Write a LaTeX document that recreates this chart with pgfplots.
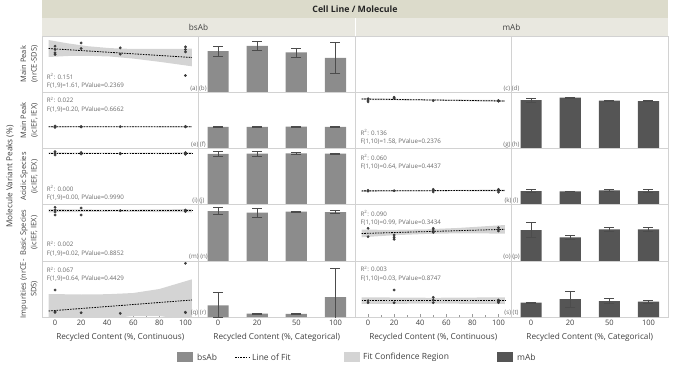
\documentclass[border=0pt]{standalone}
\usepackage{fontspec}
\setmainfont{Open Sans}
\usepackage{pgfplots}
\pgfplotsset{compat=1.18}
\definecolor{bsab}{HTML}{8C8C8C}
\definecolor{mab}{HTML}{555555}
\definecolor{band}{HTML}{D4D4D4}
\definecolor{frame}{HTML}{D2D2D2}
\definecolor{hdr1}{HTML}{DCDBCB}
\definecolor{hdr2}{HTML}{E9E8E0}
\definecolor{ptc}{HTML}{3C3C3C}
\definecolor{note}{HTML}{6A6A6A}
\definecolor{txt}{HTML}{404040}
\newcommand\ticfont{\fontsize{7.5}{9}\selectfont}
\newcommand\labfont{\fontsize{8.2}{10}\selectfont}
\newcommand\notefont{\fontsize{6.2}{7}\selectfont}
\tikzset{fitline/.style={black, line width=0.8pt, dash pattern=on 1.6pt off 1.1pt}}
\pgfplotsset{
  panel/.style={scale only axis, width=156.5pt, height=56.2pt, anchor=south west,
    ymin=0, ymax=56.2, axis line style={draw=frame, line width=0.5pt},
    xtick=\empty, ytick=\empty, clip=true},
  cont/.style={panel, xmin=-10, xmax=110},
  cat/.style={panel, xmin=-0.5, xmax=3.5},
  bot/.style={tick align=inside, xtick pos=left, major tick length=3pt, minor tick length=2pt,
    tick style={draw=gray!80, line width=0.5pt},
    xticklabel style={font=\ticfont, text=txt, /pgf/number format/assume math mode=true},
    xlabel style={font=\labfont, text=txt}},
  contbot/.style={cont, bot, xtick={0,20,40,60,80,100}, minor xtick={10,30,50,70,90},
    xlabel={Recycled Content (\%, Continuous)}},
  catbot/.style={cat, bot, xtick={0,1,2,3}, xticklabels={0,20,50,100}, major tick length=0pt,
    xlabel={Recycled Content (\%, Categorical)}},
  cband/.style={fill=band, draw=none},
  pts/.style={only marks, mark=*, mark size=1.2pt, color=ptc},
  bars/.style={ybar, bar width=0.54, fill=#1, draw=none,
    error bars/.cd, y dir=both, y explicit,
    error bar style={color=black!70, line width=0.7pt},
    error mark options={rotate=90, mark size=5pt, color=black!70, line width=0.7pt}},
}
\begin{document}
\begin{tikzpicture}
\useasboundingbox (0pt,0pt) rectangle (677pt,-367pt);
% header
\fill[hdr1] (42pt,0pt) rectangle (668pt,-18pt);
\fill[hdr2] (42pt,-18pt) rectangle (668pt,-36pt);
\draw[white, line width=0.8pt] (355pt,-18pt) -- (355pt,-36pt);
\node[font=\fontsize{8.8}{10}\selectfont\bfseries, text=black!85] at (355pt,-9pt) {Cell Line / Molecule};
\node[font=\fontsize{8.2}{10}\selectfont, text=txt] at (198.5pt,-27pt) {bsAb};
\node[font=\fontsize{8.2}{10}\selectfont, text=txt] at (511.5pt,-27pt) {mAb};

%================ ROW 1 =================
\begin{axis}[cont, at={(42pt,-92.2pt)}]
\addplot[cband] coordinates {(-5,52.2)(10,48.8)(25,46)(42,44.1)(60,43.2)(80,43.2)(105,43.5)(105,25.9)(80,30.4)(60,33.6)(42,35.7)(25,36.4)(10,36.2)(-5,35.2)};
\addplot[fitline] coordinates {(-5,43.7)(105,34.7)};
\addplot[pts] coordinates {(0,46)(0,42.7)(0,39.3)(0,37.7)(20,49.3)(20,43.7)(50,44.3)(50,38)(100,45.3)(100,42.7)(100,40.3)(100,16.7)};
\end{axis}
\begin{axis}[cat, at={(198.5pt,-92.2pt)}]
\addplot[bars=bsab] table[x=x, y=y, y error=e] {
x y e
0 41.0 5.0
1 46.3 4.5
2 39.7 4.5
3 34.3 15.5
};
\end{axis}
\begin{axis}[cont, at={(355pt,-92.2pt)}]
\end{axis}
\begin{axis}[cat, at={(511.5pt,-92.2pt)}]
\end{axis}

%================ ROW 2 =================
\begin{axis}[cont, at={(42pt,-148.4pt)}]
\addplot[cband] coordinates {(-5,22.3)(50,22.1)(105,22.2)(105,21.0)(50,21.3)(-5,21.1)};
\addplot[fitline] coordinates {(-5,21.7)(105,21.6)};
\addplot[pts] coordinates {(0,22.4)(0,21.7)(0,21.0)(20,21.9)(20,21.4)(50,21.7)(100,22.0)(100,21.5)};
\end{axis}
\begin{axis}[cat, at={(198.5pt,-148.4pt)}]
\addplot[bars=bsab] table[x=x, y=y, y error=e] {
x y e
0 21.5 0.4
1 21.5 0.3
2 21.7 0.4
3 21.6 0.3
};
\end{axis}
\begin{axis}[cont, at={(355pt,-148.4pt)}]
\addplot[cband] coordinates {(-5,50.3)(50,49.0)(105,48.3)(105,46.5)(50,47.8)(-5,48.5)};
\addplot[fitline] coordinates {(-5,49.4)(105,47.4)};
\addplot[pts] coordinates {(0,49.7)(0,48.2)(0,46.6)(20,51.1)(20,50.2)(50,47.7)(100,47.9)(100,47.5)(100,47.2)};
\end{axis}
\begin{axis}[cat, at={(511.5pt,-148.4pt)}]
\addplot[bars=mab] table[x=x, y=y, y error=e] {
x y e
0 48.2 2.2
1 50.7 0.5
2 47.7 0.4
3 47.4 0.2
};
\end{axis}

%================ ROW 3 =================
\begin{axis}[cont, at={(42pt,-204.6pt)}]
\addplot[cband] coordinates {(-5,52.2)(50,51.8)(105,52.2)(105,50.4)(50,50.8)(-5,50.4)};
\addplot[fitline] coordinates {(-5,51.3)(105,51.3)};
\addplot[pts] coordinates {(0,53)(0,51.3)(0,49.6)(20,52)(20,50.6)(50,51.3)(50,50.8)(100,52)(100,50.8)(100,50.3)};
\end{axis}
\begin{axis}[cat, at={(198.5pt,-204.6pt)}]
\addplot[bars=bsab] table[x=x, y=y, y error=e] {
x y e
0 50.6 2.2
1 50.9 2.6
2 51.3 0.8
3 50.9 0.8
};
\end{axis}
\begin{axis}[cont, at={(355pt,-204.6pt)}]
\addplot[cband] coordinates {(-5,14.6)(50,14.4)(105,15.1)(105,13.3)(50,13.4)(-5,12.8)};
\addplot[fitline] coordinates {(-5,13.7)(105,14.2)};
\addplot[pts] coordinates {(0,14.3)(0,13.5)(20,13.9)(50,15.2)(50,13.9)(50,12.6)(100,15.2)(100,13.9)(100,12.5)};
\end{axis}
\begin{axis}[cat, at={(511.5pt,-204.6pt)}]
\addplot[bars=mab] table[x=x, y=y, y error=e] {
x y e
0 13.6 1.2
1 13.3 0.3
2 14.3 1.2
3 13.6 1.3
};
\end{axis}

%================ ROW 4 =================
\begin{axis}[cont, at={(42pt,-260.8pt)}]
\addplot[cband] coordinates {(-5,51.7)(45,51.1)(105,51.7)(105,48.5)(45,49.1)(-5,48.5)};
\addplot[fitline] coordinates {(-5,50.1)(105,50.1)};
\addplot[pts] coordinates {(0,53.5)(0,50.8)(0,48.8)(0,45.8)(20,52.8)(20,45.8)(50,50.1)(100,50.8)(100,49.3)};
\end{axis}
\begin{axis}[cat, at={(198.5pt,-260.8pt)}]
\addplot[bars=bsab] table[x=x, y=y, y error=e] {
x y e
0 49.8 3.8
1 48.1 4.3
2 49.1 0.5
3 48.8 1.7
};
\end{axis}
\begin{axis}[cont, at={(355pt,-260.8pt)}]
\addplot[cband] coordinates {(-5,31.1)(20,31.0)(45,31.5)(70,32.9)(105,35.8)(105,27.2)(70,27.5)(45,26.9)(20,25.6)(-5,23.5)};
\addplot[fitline] coordinates {(-5,27.3)(105,31.5)};
\addplot[pts] coordinates {(0,32.5)(0,24.1)(20,25.8)(20,23.5)(20,21.5)(50,32.5)(50,30.8)(50,28.5)(100,33.1)(100,31.5)(100,29.8)};
\end{axis}
\begin{axis}[cat, at={(511.5pt,-260.8pt)}]
\addplot[bars=mab] table[x=x, y=y, y error=e] {
x y e
0 30.8 7.3
1 23.5 1.8
2 31.5 2.0
3 31.5 1.8
};
\end{axis}

%================ ROW 5 =================
\begin{axis}[contbot, at={(42pt,-317pt)}]
\addplot[cband] coordinates {(-5,23)(20,22.5)(40,22.8)(60,24)(80,28)(105,37.7)(105,-3.7)(80,1)(60,1)(40,-1.8)(20,-5.5)(-5,-11)};
\addplot[fitline] coordinates {(-5,6)(105,17)};
\addplot[pts] coordinates {(0,27)(0,5.3)(0,4.6)(20,4.3)(50,3.7)(100,4.3)(100,4.8)(100,53.7)};
\end{axis}
\begin{axis}[catbot, at={(198.5pt,-317pt)}]
\addplot[bars=bsab] table[x=x, y=y, y error=e] {
x y e
0 11.7 12.5
1 3.5 0.4
2 3.2 0.3
3 20.0 28.3
};
\end{axis}
\begin{axis}[contbot, at={(355pt,-317pt)}]
\addplot[cband] coordinates {(-5,19.7)(50,19.2)(105,19.7)(105,13.0)(50,13.4)(-5,13.0)};
\addplot[fitline] coordinates {(-5,16.3)(105,16.3)};
\addplot[pts] coordinates {(0,16.3)(0,14.3)(20,27)(20,14.3)(50,19.7)(50,17)(50,14.3)(100,17)(100,15.7)(100,14.3)};
\end{axis}
\begin{axis}[catbot, at={(511.5pt,-317pt)}]
\addplot[bars=mab] table[x=x, y=y, y error=e] {
x y e
0 14.3 0.5
1 18.0 8.0
2 16.0 2.7
3 15.3 1.5
};
\end{axis}

% annotations
\begin{scope}[every node/.style={font=\notefont, text=note, inner sep=0pt, anchor=west}]
\node at (46.7pt,-76.7pt) {R\textsuperscript{2}: 0.151};
\node at (46.7pt,-85.7pt) {F(1,9)=1.61, PValue=0.2369};
\node at (46.7pt,-100pt) {R\textsuperscript{2}: 0.022};
\node at (46.7pt,-109.3pt) {F(1,9)=0.20, PValue=0.6662};
\node at (46.7pt,-188.3pt) {R\textsuperscript{2}: 0.000};
\node at (46.7pt,-197.3pt) {F(1,9)=0.00, PValue=0.9990};
\node at (46.7pt,-244pt) {R\textsuperscript{2}: 0.002};
\node at (46.7pt,-253.3pt) {F(1,9)=0.02, PValue=0.8852};
\node at (46.7pt,-270pt) {R\textsuperscript{2}: 0.067};
\node at (46.7pt,-278.3pt) {F(1,9)=0.64, PValue=0.4429};
\node at (360.3pt,-132.7pt) {R\textsuperscript{2}: 0.136};
\node at (360.3pt,-141.7pt) {F(1,10)=1.58, PValue=0.2376};
\node at (360.3pt,-157.3pt) {R\textsuperscript{2}: 0.060};
\node at (360.3pt,-166.7pt) {F(1,10)=0.64, PValue=0.4437};
\node at (360.3pt,-213.3pt) {R\textsuperscript{2}: 0.090};
\node at (360.3pt,-222.3pt) {F(1,10)=0.99, PValue=0.3434};
\node at (360.3pt,-269pt) {R\textsuperscript{2}: 0.003};
\node at (360.3pt,-278.3pt) {F(1,10)=0.03, PValue=0.8747};
\end{scope}
\begin{scope}[every node/.style={font=\notefont, text=note, inner sep=0pt}]
\node at (198.5pt,-89pt) {(a) (b)};
\node at (511.5pt,-89pt) {(c) (d)};
\node at (198.5pt,-145pt) {(e) (f)};
\node at (511.5pt,-145pt) {(g) (h)};
\node at (198.5pt,-201pt) {(i) (j)};
\node at (511.5pt,-201pt) {(k) (l)};
\node at (198.5pt,-257pt) {(m) (n)};
\node at (511.5pt,-257pt) {(o) (p)};
\node at (198.5pt,-313pt) {(q) (r)};
\node at (511.5pt,-313pt) {(s) (t)};
\end{scope}

% left labels
\node[rotate=90, font=\labfont, text=txt] at (10pt,-176.5pt) {Molecule Variant Peaks (\%)};
\begin{scope}[every node/.style={rotate=90, font=\fontsize{7.5}{10.5}\selectfont, text=txt, align=center, inner sep=0pt}]
\node at (29pt,-64.1pt) {Main Peak\\(nrCE-SDS)};
\node at (29pt,-120.3pt) {Main Peak\\(icIEF, IEX)};
\node at (29pt,-176.5pt) {Acidic Species\\(icIEF, IEX)};
\node at (29pt,-232.7pt) {Basic Species\\(icIEF, IEX)};
\node at (29pt,-288.9pt) {Impurities (nrCE-\\SDS)};
\end{scope}

% legend
\begin{scope}[every node/.style={font=\fontsize{8.5}{10}\selectfont, text=txt, anchor=west, inner sep=0pt}]
\fill[bsab] (177pt,-352pt) rectangle (193pt,-362pt);
\node at (197pt,-357pt) {bsAb};
\draw[fitline] (235pt,-357pt) -- (250pt,-357pt);
\node at (252pt,-357pt) {Line of Fit};
\fill[band] (344pt,-352pt) rectangle (360pt,-362pt);
\node at (363pt,-357pt) {Fit Confidence Region};
\fill[mab] (497pt,-352pt) rectangle (513pt,-362pt);
\node at (517pt,-357pt) {mAb};
\end{scope}
\end{tikzpicture}
\end{document}
